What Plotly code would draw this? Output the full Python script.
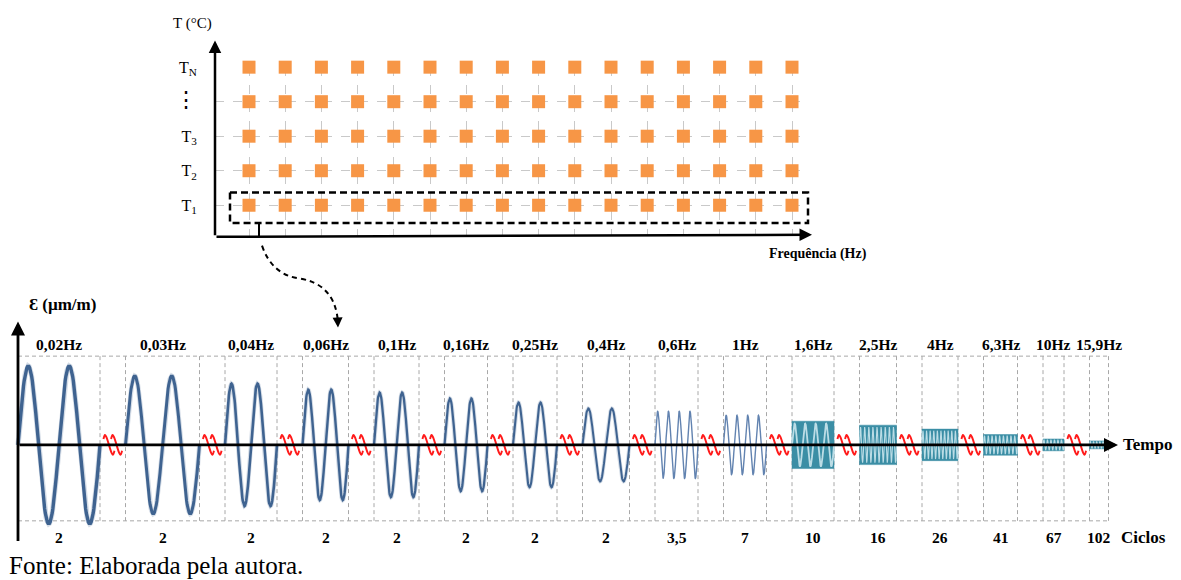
import numpy as np
import plotly.graph_objects as go

# ---------------- data ----------------
FREQ_LABELS = ["0,02Hz", "0,03Hz", "0,04Hz", "0,06Hz", "0,1Hz", "0,16Hz", "0,25Hz", "0,4Hz",
               "0,6Hz", "1Hz", "1,6Hz", "2,5Hz", "4Hz", "6,3Hz", "10Hz", "15,9Hz"]
CYCLE_LABELS = ["2", "2", "2", "2", "2", "2", "2", "2", "3,5", "7", "10", "16", "26", "41", "67", "102"]
# strain amplitude of each test block (arbitrary units, same scale as the canvas)
STRAIN_AMPLITUDE = [80, 70, 62, 56, 53, 47, 43, 37, 34, 30, 24, 20, 16, 10.5, 6, 4]
# number of oscillations sketched inside each block
DRAWN_CYCLES = [2, 2, 2, 2, 2, 2, 2, 2, 4, 4, 4, 9, 10, 9, 6, 6]
TEMP_LABELS = ["T<sub>1</sub>", "T<sub>2</sub>", "T<sub>3</sub>",
               "<span style='font-size:22px'>⋮</span>", "T<sub>N</sub>"]
N_FREQ = len(FREQ_LABELS)
N_TEMP = len(TEMP_LABELS)

# ---------------- layout constants ----------------
W, H = 1181, 580
SERIF = "Liberation Serif, Times New Roman, serif"
BLUE = "#3F6390"
LIGHT_BLUE = "#6283B0"
TEAL = "#3B8EA5"
TEAL_WAVE = "#BCDDE6"
GRID = "#C9C9C9"
FRAME = "#A8A8A8"

# top matrix (temperature x frequency)
COL0, COLSTEP = 249, 36.2
ROW0, ROWSTEP = 200, 35
TOP_LEFT, TOP_RIGHT, TOP_BOTTOM, TOP_TOP = 215, 800, 231, 60


def col_px(c):
    return COL0 + (c - 1) * COLSTEP


def row_px(r):
    return ROW0 - (r - 1) * ROWSTEP


# bottom time history
ORIGIN_X, ZERO_Y = 18, 443
SEG_W = [82, 74, 52, 46, 45, 43, 44, 47, 43, 43, 42, 37, 36, 34, 21, 19]
GAP = 25.5
FRAME_TOP, FRAME_BOT = 353, 520
LINE_W = [3.4, 3.0, 2.6, 2.4, 2.3, 2.2, 2.1, 2.0]

seg_start = []
x = ORIGIN_X
for w in SEG_W:
    seg_start.append(x)
    x += w + GAP
seg_end = [s + w for s, w in zip(seg_start, SEG_W)]
seg_mid = [(s + e) / 2 for s, e in zip(seg_start, seg_end)]
RIGHT_END = seg_end[-1]

fig = go.Figure()

# ---------------- bottom: strain blocks ----------------
for i in range(N_FREQ):
    x0, w, amp, n = seg_start[i], SEG_W[i], STRAIN_AMPLITUDE[i], DRAWN_CYCLES[i]
    t = np.linspace(0, 1, 60 * n + 1)
    xs = x0 + w * t
    if i < 8:
        ys = ZERO_Y - amp * np.sin(2 * np.pi * n * t)
        fig.add_trace(go.Scatter(x=xs, y=ys, mode="lines", hoverinfo="skip",
                                 line=dict(color="rgba(63,99,144,0.22)", width=LINE_W[i] + 1.8)))
        fig.add_trace(go.Scatter(x=xs, y=ys, mode="lines", hoverinfo="skip",
                                 line=dict(color=BLUE, width=LINE_W[i])))
    elif i < 10:
        ys = ZERO_Y - amp * np.sin(2 * np.pi * n * t)
        fig.add_trace(go.Scatter(x=xs, y=ys, mode="lines", hoverinfo="skip",
                                 line=dict(color=LIGHT_BLUE, width=1.4)))
    else:
        fig.add_trace(go.Scatter(x=[x0, x0 + w, x0 + w, x0, x0],
                                 y=[ZERO_Y - amp, ZERO_Y - amp, ZERO_Y + amp, ZERO_Y + amp, ZERO_Y - amp],
                                 mode="lines", fill="toself", fillcolor=TEAL, hoverinfo="skip",
                                 line=dict(color=TEAL, width=0.5)))
        ys = ZERO_Y - 0.9 * amp * np.sin(2 * np.pi * n * t)
        fig.add_trace(go.Scatter(x=xs, y=ys, mode="lines", hoverinfo="skip",
                                 line=dict(color=TEAL_WAVE, width=1.8 if i == 10 else 1.1)))

# red break marks between blocks: two hooked strokes per gap
STROKE = [(-5.5, 4.5), (-4.0, 0.5), (-2.6, 2.5), (2.6, 18.5), (4.0, 20.5), (5.5, 16.5)]
for i in range(N_FREQ - 1):
    gx = (seg_end[i] + seg_start[i + 1]) / 2
    for off in (-3.8, 3.8):
        fig.add_trace(go.Scatter(x=[gx + off + dx for dx, _ in STROKE],
                                 y=[ZERO_Y - 10.5 + dy for _, dy in STROKE],
                                 mode="lines", hoverinfo="skip",
                                 line=dict(color="#FF1A1A", width=1.9, shape="spline")))

# ---------------- top: test matrix ----------------
mx, my = [], []
for r in range(1, N_TEMP + 1):
    for c in range(1, N_FREQ + 1):
        mx.append(c)
        my.append(r)
fig.add_trace(go.Scatter(x=mx, y=my, mode="markers", xaxis="x2", yaxis="y2", cliponaxis=False,
                         hoverinfo="skip",
                         marker=dict(symbol="square", size=13, color="#F79646", line=dict(width=0))))

# ---------------- shapes ----------------
shapes = []
dash_frame = dict(color=FRAME, width=1, dash="4px,3px")
for yy in (FRAME_TOP, FRAME_BOT):
    shapes.append(dict(type="line", xref="x", yref="y", x0=ORIGIN_X, x1=RIGHT_END, y0=yy, y1=yy,
                       line=dash_frame, layer="below"))
for i in range(N_FREQ):
    for xx in (seg_start[i], seg_end[i]):
        if xx == ORIGIN_X:
            continue
        shapes.append(dict(type="line", xref="x", yref="y", x0=xx, x1=xx, y0=FRAME_TOP, y1=FRAME_BOT,
                           line=dash_frame, layer="below"))

# highlight box around the T1 row
shapes.append(dict(type="rect", xref="x", yref="y",
                   x0=col_px(1) - 19, x1=col_px(N_FREQ) + 16,
                   y0=row_px(1) - 13, y1=row_px(1) + 18,
                   line=dict(color="black", width=2.5, dash="7px,4px")))
# link from the highlighted row down to the time history
shapes.append(dict(type="line", xref="x", yref="y", x0=259, x1=259, y0=row_px(1) + 18, y1=TOP_BOTTOM + 1,
                   line=dict(color="black", width=2)))
shapes.append(dict(type="path", xref="x", yref="y",
                   path="M 262,241 Q 272,270 298,274 Q 333,279 337.5,314",
                   line=dict(color="black", width=2, dash="5px,4px")))

# ---------------- annotations ----------------
ann = []


def arrow(x0, y0, x1, y1, width=2.5, head=2, size=1.0):
    ann.append(dict(x=x1, y=y1, ax=x0, ay=y0, xref="x", yref="y", axref="x", ayref="y",
                    showarrow=True, arrowhead=head, arrowsize=size, arrowwidth=width,
                    arrowcolor="black", text=""))


def label(x, y, text, size, bold=False, xanchor="center"):
    ann.append(dict(x=x, y=y, xref="x", yref="y", showarrow=False, xanchor=xanchor, yanchor="middle",
                    text=f"<b>{text}</b>" if bold else text,
                    font=dict(family=SERIF, size=size, color="black")))


# axes of the matrix
arrow(TOP_LEFT, TOP_BOTTOM + 1, TOP_LEFT, 33)
arrow(TOP_LEFT, TOP_BOTTOM + 1, 812, TOP_BOTTOM - 1)
# axes of the time history
arrow(ORIGIN_X, 542, ORIGIN_X, 318, width=2.8)
arrow(ORIGIN_X, ZERO_Y, 1118, ZERO_Y, width=2.8)
# tip of the link arrow
arrow(337.5, 312, 338, 324, width=2, head=2, size=1.0)

label(192, 16, "T (°C)", 15)
label(818, 249, "Frequência (Hz)", 14, bold=True)
label(62, 301, "Ɛ (µm/m)", 17, bold=True)
label(1121, 443, "Tempo", 17, bold=True, xanchor="left")
label(1143, 537, "Ciclos", 17, bold=True)
for i in range(N_FREQ):
    label(seg_mid[i], 341, FREQ_LABELS[i], 15.5, bold=True)
    label(seg_mid[i], 537, CYCLE_LABELS[i], 15.5, bold=True)
label(7, 565, "Fonte: Elaborada pela autora.", 25, xanchor="left")

fig.update_layout(
    width=W, height=H, margin=dict(l=0, r=0, t=0, b=0),
    paper_bgcolor="white", plot_bgcolor="rgba(0,0,0,0)",
    showlegend=False, shapes=shapes, annotations=ann,
    xaxis=dict(range=[0, W], domain=[0, 1], visible=False, fixedrange=True),
    yaxis=dict(range=[H, 0], domain=[0, 1], visible=False, fixedrange=True),
    xaxis2=dict(domain=[TOP_LEFT / W, TOP_RIGHT / W], anchor="y2",
                range=[(TOP_LEFT - COL0) / COLSTEP + 1, (TOP_RIGHT - COL0) / COLSTEP + 1],
                tickvals=list(range(1, N_FREQ + 1)), showticklabels=False,
                showgrid=True, gridcolor=GRID, griddash="dash", gridwidth=1,
                zeroline=False, showline=False, fixedrange=True),
    yaxis2=dict(domain=[1 - TOP_BOTTOM / H, 1 - TOP_TOP / H], anchor="x2",
                range=[1 - (TOP_BOTTOM - ROW0) / ROWSTEP, 1 + (ROW0 - TOP_TOP) / ROWSTEP],
                tickvals=list(range(1, N_TEMP + 1)), ticktext=TEMP_LABELS,
                ticks="outside", ticklen=14, tickcolor="rgba(0,0,0,0)",
                tickfont=dict(family=SERIF, size=16, color="black"),
                showgrid=True, gridcolor=GRID, griddash="dash", gridwidth=1,
                zeroline=False, showline=False, fixedrange=True),
)

fig.write_html("out.html", config={"displayModeBar": False})
